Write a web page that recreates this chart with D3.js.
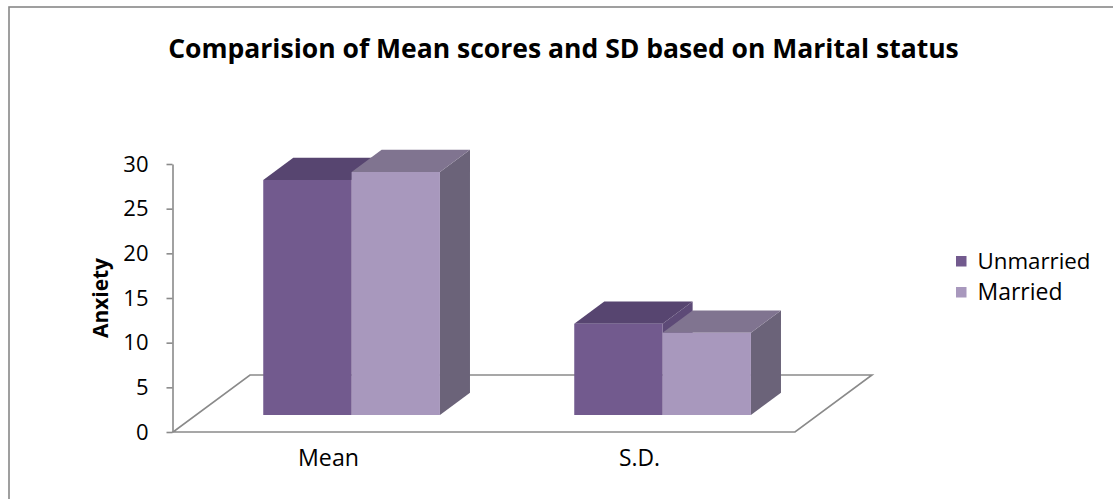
<!DOCTYPE html>
<html>
<head>
<meta charset="utf-8">
<script src="https://cdn.jsdelivr.net/npm/d3@7"></script>
<style>
  body { margin: 0; background: #fff; }
  svg text { font-family: "Open Sans", sans-serif; fill: #000; }
</style>
</head>
<body>
<div id="chart"></div>
<script>
// chart data
const categories = ['Mean', 'S.D.'];
const seriesNames = ['Unmarried', 'Married'];
const unmarried = [26.3, 10.2];
const married = [27.2, 9.2];
const yTicks = [0, 5, 10, 15, 20, 25, 30];

const seriesValues = [unmarried, married];
const faceColors = [
    { front: '#725a8e', top: '#574570', side: '#5d4a77' },
    { front: '#a898bd', top: '#807490', side: '#6b6379' }
];

const width = 1113, height = 499;

const svg = d3.select('#chart')
    .append('svg')
    .attr('width', width)
    .attr('height', height);

// outer frame
svg.append('rect')
    .attr('x', 9).attr('y', 7)
    .attr('width', width + 20).attr('height', height + 20)
    .style('fill', 'none')
    .style('stroke', '#888')
    .style('stroke-width', 1.6);

// fit a text element to a given width by changing its font size
function fitWidth(sel, target) {
    const fs = parseFloat(sel.attr('font-size'));
    const w = sel.node().getComputedTextLength();
    if (w > 0) sel.attr('font-size', (fs * target / w).toFixed(2));
    return sel;
}

const y = d3.scaleLinear().domain([0, 30]).range([432, 164]);
const x = d3.scaleBand().domain(categories).range([173, 795]);
const xInner = d3.scaleBand().domain(seriesNames)
    .range([0, x.bandwidth()])
    .paddingInner(0)
    .paddingOuter(0.76);

// oblique depth of the floor
const depth = { dx: 77, dy: -57 };
const barDepth = [0.3, 0.69];

function proj(px, val, z) {
    return [px + z * depth.dx, y(val) + z * depth.dy];
}

const line = d3.line();

// floor
const x0 = x.range()[0], x1 = x.range()[1];
svg.append('path')
    .attr('d', line([proj(x0, 0, 0), proj(x1, 0, 0), proj(x1, 0, 1), proj(x0, 0, 1)]) + 'Z')
    .style('fill', '#fff')
    .style('stroke', '#8a8a8a')
    .style('stroke-width', 1.6);

// y axis
const yAxis = svg.append('g')
    .attr('transform', `translate(${x0 - 0.5},0)`)
    .call(d3.axisLeft(y).tickValues(yTicks).tickSize(6).tickSizeOuter(0).tickPadding(18));
yAxis.select('.domain').style('stroke', '#8a8a8a').style('stroke-width', 1.6);
yAxis.selectAll('.tick line').style('stroke', '#8a8a8a').style('stroke-width', 1.6);
yAxis.selectAll('.tick text')
    .attr('font-size', 22)
    .style('font-family', '"Open Sans", sans-serif')
    .style('fill', '#000');

// bars, drawn left to right so later faces cover earlier sides
const bars = svg.append('g');
categories.forEach((cat, ci) => {
    seriesNames.forEach((name, si) => {
        const v = seriesValues[si][ci];
        const bx0 = x(cat) + xInner(name);
        const bx1 = bx0 + xInner.bandwidth();
        const [z0, z1] = barDepth;
        const c = faceColors[si];
        const g = bars.append('g').attr('class', 'bar');

        g.append('path')
            .attr('d', line([proj(bx1, 0, z0), proj(bx1, 0, z1), proj(bx1, v, z1), proj(bx1, v, z0)]) + 'Z')
            .style('fill', c.side);
        g.append('path')
            .attr('d', line([proj(bx0, v, z0), proj(bx1, v, z0), proj(bx1, v, z1), proj(bx0, v, z1)]) + 'Z')
            .style('fill', c.top);
        g.append('path')
            .attr('d', line([proj(bx0, 0, z0), proj(bx1, 0, z0), proj(bx1, v, z0), proj(bx0, v, z0)]) + 'Z')
            .style('fill', c.front);
    });
});

// category labels
const catWidths = [61, 41];
svg.selectAll('.cat-label')
    .data(categories)
    .enter()
    .append('text')
    .attr('class', 'cat-label')
    .attr('x', d => x(d) + x.bandwidth() / 2)
    .attr('y', 466)
    .attr('text-anchor', 'middle')
    .attr('font-size', 21)
    .text(d => d)
    .each(function (d, i) { fitWidth(d3.select(this), catWidths[i]); });

// title
const title = svg.append('text')
    .attr('x', 563.5)
    .attr('y', 58)
    .attr('text-anchor', 'middle')
    .attr('font-size', 26)
    .style('font-weight', 'bold')
    .text('Comparision of Mean scores and SD based on Marital status');
fitWidth(title, 791);

// y axis title
const yTitle = svg.append('text')
    .attr('transform', 'translate(108,298) rotate(-90)')
    .attr('text-anchor', 'middle')
    .attr('font-size', 20)
    .style('font-weight', 'bold')
    .text('Anxiety');
fitWidth(yTitle, 80);

// legend
const legendWidths = [113, 85];
const legend = svg.append('g').attr('transform', 'translate(956,256)');
const items = legend.selectAll('.item')
    .data(seriesNames)
    .enter()
    .append('g')
    .attr('class', 'item')
    .attr('transform', (d, i) => `translate(0,${i * 31})`);
items.append('rect')
    .attr('width', 10.5)
    .attr('height', 10.5)
    .style('fill', (d, i) => faceColors[i].front);
items.append('text')
    .attr('x', 21.5)
    .attr('y', 13)
    .attr('font-size', 21)
    .text(d => d)
    .each(function (d, i) { fitWidth(d3.select(this), legendWidths[i]); });
</script>
</body>
</html>
